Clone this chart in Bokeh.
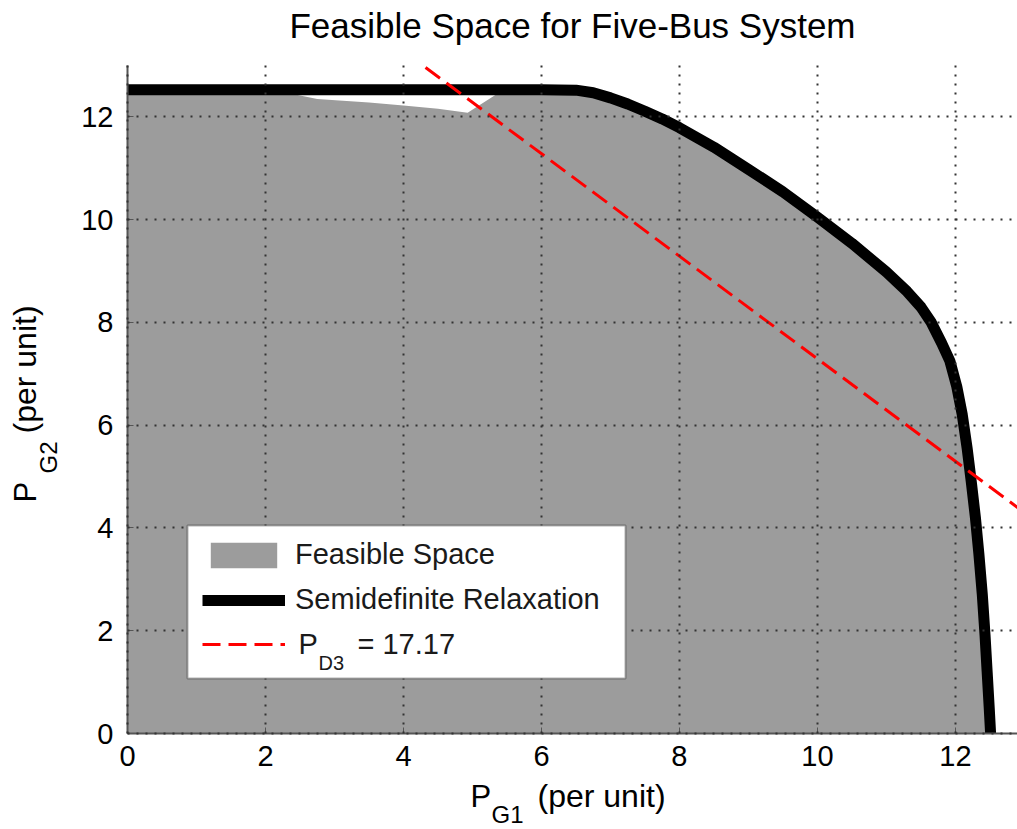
import math
from bokeh.plotting import figure
from bokeh.models import Range1d, Legend, LegendItem, Label, BoxAnnotation
from bokeh.embed import file_html
from bokeh.resources import INLINE

title_text = "Feasible Space for Five-Bus System"
x_ticks = [0, 2, 4, 6, 8, 10, 12]
y_ticks = [0, 2, 4, 6, 8, 10, 12]
x_max, y_max = 12.9, 13.0

# Semidefinite relaxation boundary
sdr_x = [0.0, 2.0, 4.0, 6.0, 6.5, 6.75, 7.0, 7.25, 7.5, 7.75, 8.0, 8.5, 9.0, 9.5, 10.0,
         10.5, 11.0, 11.3, 11.5, 11.65, 11.8, 11.92, 12.02, 12.1, 12.17, 12.23, 12.29,
         12.34, 12.39, 12.43, 12.46, 12.49, 12.51]
sdr_y = [12.53, 12.53, 12.53, 12.53, 12.52, 12.47, 12.37, 12.25, 12.11, 11.96, 11.79,
         11.41, 10.98, 10.54, 10.05, 9.54, 8.98, 8.6, 8.3, 8.0, 7.6, 7.25, 6.75, 6.2,
         5.55, 4.9, 4.2, 3.5, 2.7, 1.9, 1.2, 0.5, 0.0]

# Feasible space: same outer boundary plus the small infeasible notch near the top
notch_x = [2.2, 2.75, 3.5, 4.0, 4.5, 4.93, 5.36]
notch_y = [12.5, 12.35, 12.28, 12.22, 12.16, 12.08, 12.45]
feas_x = [0.0, 0.0] + notch_x + [x for x in sdr_x if x > 5.4]
feas_y = [0.0, 12.53] + notch_y + [y for x, y in zip(sdr_x, sdr_y) if x > 5.4]

# P_D3 = 17.17 constraint line
pd3_x = [4.32, 13.0]
pd3_y = [12.96, 4.30]

FONT = "Liberation Sans"
W, H = 1017, 829
# plot-area pixel edges inside the canvas (left, right, top, bottom)
FL, FR, FT, FB = 127, 1017, 65, 733
kx = (FR - FL) / x_max
ky = (FB - FT) / y_max

p = figure(width=W, height=H,
           x_range=Range1d(-FL / kx, x_max + (W - FR) / kx),
           y_range=Range1d(-(H - FB) / ky, y_max + FT / ky),
           output_backend="svg", toolbar_location=None, min_border=0)
p.title.visible = False
p.background_fill_color = "white"
p.border_fill_color = "white"
p.outline_line_color = None

r_feas = p.patch(feas_x, feas_y, fill_color="#9c9c9c", line_color=None)
r_sdr = p.line(sdr_x, sdr_y, line_color="black", line_width=11, line_join="round")
r_red = p.line(pd3_x, pd3_y, line_color="#ff0000", line_width=3, line_dash="18 8")

# axes drawn at the data origin
for ax, ticks, bnd in ((p.xaxis, x_ticks, (0, x_max)), (p.yaxis, y_ticks, (0, y_max))):
    ax.fixed_location = 0
    ax.bounds = bnd
    ax.ticker = ticks
    ax.major_label_text_font = FONT
    ax.major_label_text_font_size = "29px"
    ax.major_label_text_color = "black"
    ax.axis_line_color = "#555555"
    ax.axis_line_width = 2
    ax.major_tick_line_color = "#555555"
    ax.major_tick_in = 6
    ax.major_tick_out = 0
    ax.minor_tick_line_color = None
    ax.axis_label = None
p.xaxis.major_label_standoff = 12
p.yaxis.major_label_standoff = 14

# grid
for g, bnd, cbnd in ((p.xgrid[0], (0, x_max), (0, y_max)), (p.ygrid[0], (0, y_max), (0, x_max))):
    g.grid_line_color = "#333333"
    g.grid_line_dash = "2 7"
    g.grid_line_width = 2
    g.level = "guide"
    g.bounds = bnd
    if "cross_bounds" in g.properties():
        g.cross_bounds = cbnd

# legend frame (white box with black border) under a transparent legend
LB_L, LB_R, LB_T, LB_B = 187, 625, 525, 678
p.add_layout(BoxAnnotation(left=LB_L, right=LB_R, top=H - LB_T, bottom=H - LB_B,
                           left_units="screen", right_units="screen",
                           top_units="screen", bottom_units="screen",
                           fill_color="white", fill_alpha=1.0,
                           line_color="black", line_width=2, level="guide"))

legend = Legend(items=[
    LegendItem(label="Feasible Space", renderers=[r_feas]),
    LegendItem(label="Semidefinite Relaxation", renderers=[r_sdr]),
    LegendItem(label=" ", renderers=[r_red]),
], location=(LB_L, H - LB_B + 3))
legend.border_line_color = "black"
legend.border_line_alpha = 0.0
legend.background_fill_alpha = 0.0
legend.glyph_width = 83
legend.glyph_height = 32
legend.label_standoff = 10
legend.spacing = 12
legend.padding = 15
legend.margin = 0
legend.label_text_font = FONT
legend.label_text_font_size = "29px"
legend.label_text_color = "#1a1a1a"
p.add_layout(legend)

def lab(text, left, baseline_top, size, angle=0.0, color="black", align="left"):
    # position: canvas pixels from the top-left corner of the intended text baseline
    shift = 0.38 * size
    if angle:
        x, y = left - shift, H - baseline_top
    else:
        x, y = left, H - baseline_top + shift
    p.add_layout(Label(text=text, x=x, y=y, x_units="screen", y_units="screen",
                       text_font=FONT, text_font_size=f"{size}px", text_color=color,
                       text_align=align, text_baseline="alphabetic", angle=angle,
                       level="overlay"))

# title
lab(title_text, (FL + FR) / 2, 38, 35, align="center")

# legend label with subscript
lab("P", 298, 655, 29, color="#1a1a1a")
lab("D3", 318, 670, 20, color="#1a1a1a")
lab("= 17.17", 357, 655, 29, color="#1a1a1a")

# x axis label
lab("P", 470, 808, 31)
lab("G1", 491, 823, 24)
lab("(per unit)", 537, 808, 32)

# y axis label (rotated)
lab("P", 37, 502, 31, angle=math.pi / 2)
lab("G2", 57, 473, 24, angle=math.pi / 2)
lab("(per unit)", 37, 433, 32, angle=math.pi / 2)

open("out.html", "w").write(file_html(p, INLINE))
